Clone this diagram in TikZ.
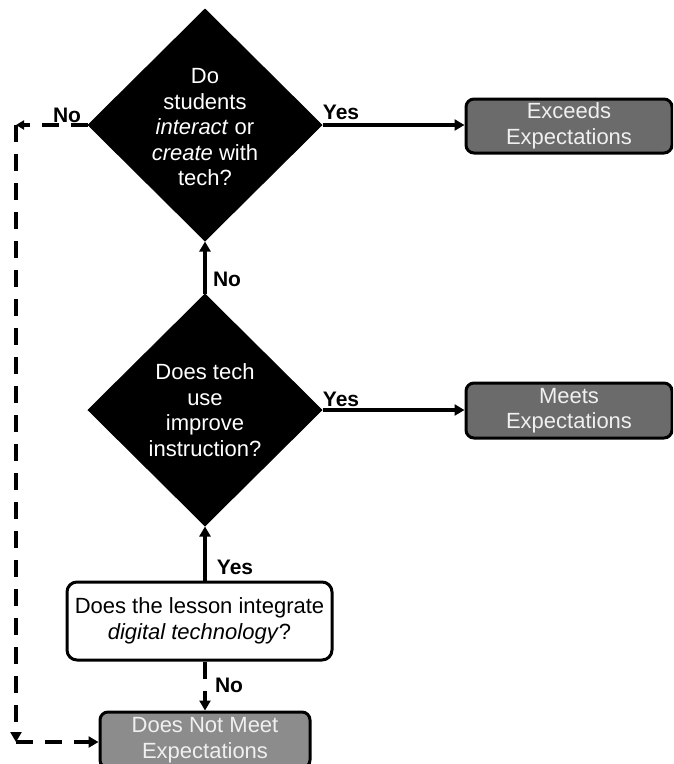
\documentclass[tikz,border=0pt]{standalone}
\usepackage{fontspec}
\setmainfont{Liberation Sans}
\usetikzlibrary{shapes.geometric,arrows.meta}

\tikzset{
  decision/.style={diamond, fill=black, draw=black, line width=1pt,
    minimum width=234pt, minimum height=232pt, inner sep=0pt},
  dtext/.style={text=white, align=center, inner sep=0pt,
    font=\fontsize{22}{25.5}\selectfont},
  outcome/.style={rectangle, rounded corners=8pt, draw=black, line width=3pt,
    fill=#1, text=white!94!black, align=center, inner sep=0pt,
    font=\fontsize{22}{25.5}\selectfont},
  question/.style={rectangle, rounded corners=10pt, draw=black, line width=3pt,
    fill=white, text=black, align=center, inner sep=0pt,
    font=\fontsize{22}{26.5}\selectfont},
  answer/.style={font=\bfseries\fontsize{21}{23}\selectfont, inner sep=0pt},
  tip/.style={-{Triangle[length=10pt,width=11pt]}},
  conn/.style={line width=3.4pt, tip},
  dashconn/.style={line width=3.6pt, dash pattern=on 17pt off 12pt},
}

\begin{document}
\begin{tikzpicture}[x=1pt,y=-1pt]
  \useasboundingbox (0,0) rectangle (673,764);
  \clip (0,0) rectangle (673,764);

  % decision diamonds
  \node[decision] (d1) at (205,125) {};
  \node[dtext] (d1t) at (205,127.5) {Do\\students\\\textit{interact} or\\\textit{create} with\\tech?};
  \node[decision] (d2) at (205,410) {};
  \node[dtext] (d2t) at (205,410) {Does tech\\use\\improve\\instruction?};

  % outcome boxes
  \node[outcome=black!58, minimum width=206pt, minimum height=54pt] (exc) at (569,126)
    {Exceeds\\Expectations};
  \node[outcome=black!58, minimum width=206pt, minimum height=55pt] (meets) at (569,410.5)
    {Meets\\Expectations};
  \node[outcome=black!45, minimum width=210pt, minimum height=56pt] (dnm) at (205,740)
    {Does Not Meet\\Expectations};

  % starting question
  \node[question, minimum width=265pt, minimum height=78pt] (integ) at (199.5,621)
    {Does the lesson integrate\\\textit{digital technology}?};

  % solid connectors
  \draw[conn] (d1.east) -- (d1.east -| exc.west);
  \draw[conn] (d2.east) -- (d2.east -| meets.west);
  \draw[conn] (d2.north) -- (d1.south);
  \draw[conn] (d2.south |- integ.north) -- (d2.south);

  % dashed "No" connectors
  \draw[dashconn, tip] (integ.south -| d2.south) -- (dnm.north);
  \coordinate (c1) at (16,125);
  \coordinate (c2) at (16,742);
  \draw[dashconn, -{Triangle[length=8pt,width=9pt]}] (d1.west) -- (c1);
  \draw[dashconn, tip] (c1) -- (c2);
  \draw[dashconn, tip] (c2) -- (c2 -| dnm.west);

  % answer labels
  \node[answer] (l1) at (67,115) {No};
  \node[answer] (l2) at (341,112) {Yes};
  \node[answer] (l3) at (227,279) {No};
  \node[answer] (l4) at (341,399) {Yes};
  \node[answer] (l5) at (235,567) {Yes};
  \node[answer] (l6) at (229,685) {No};
\end{tikzpicture}
\end{document}
